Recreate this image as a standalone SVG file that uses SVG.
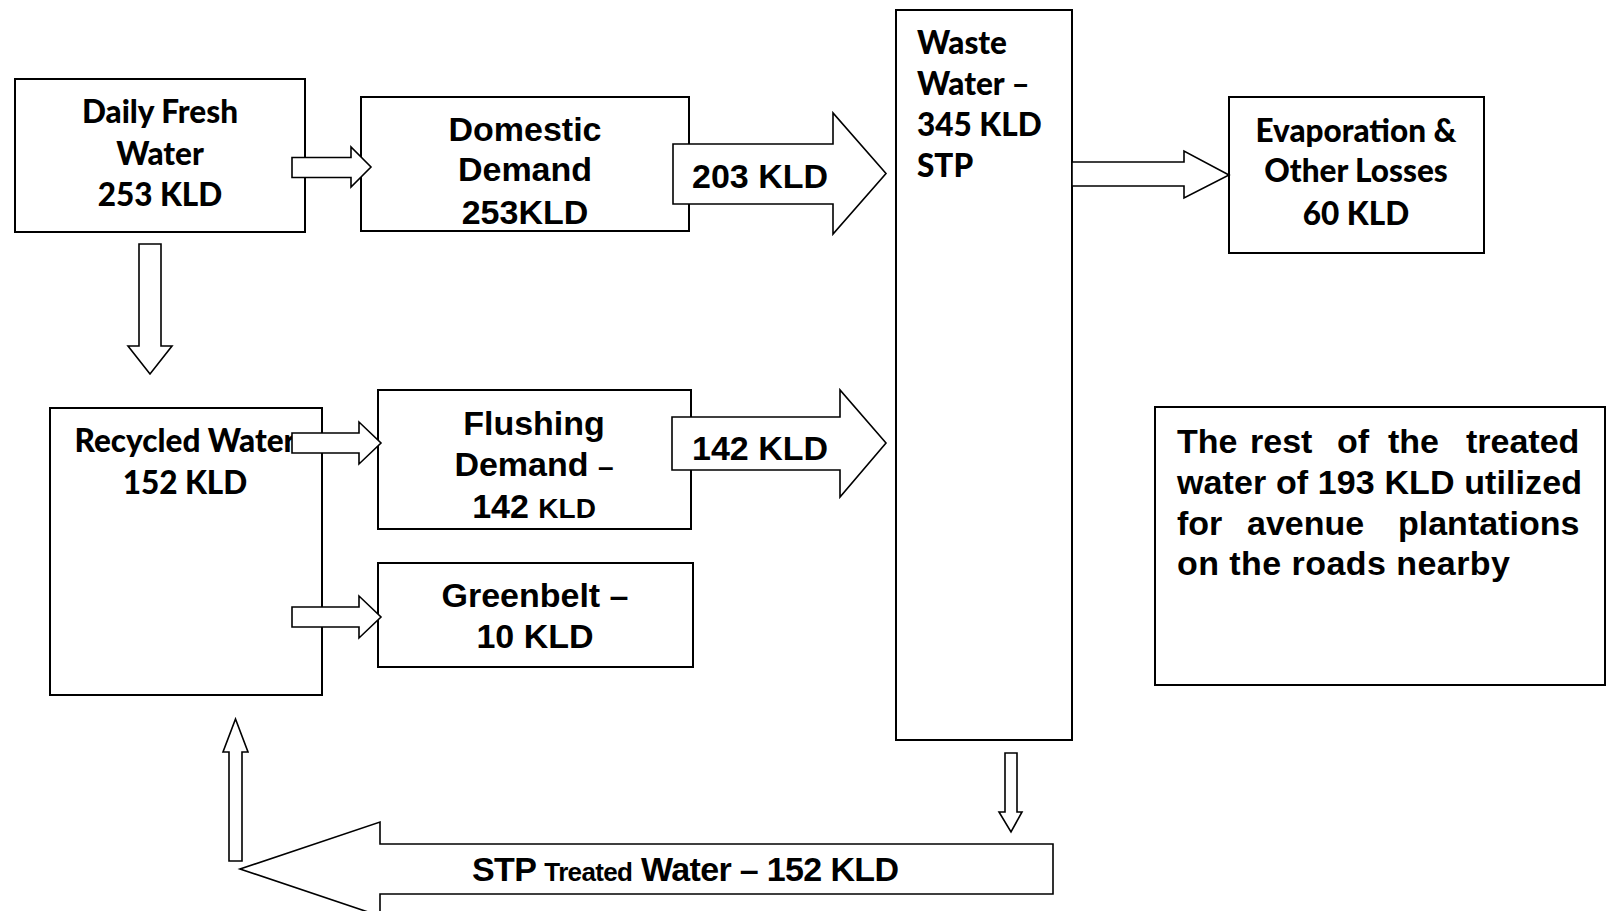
<svg xmlns="http://www.w3.org/2000/svg" width="1611" height="911" viewBox="0 0 1611 911">
<style>
.box{fill:#fff;stroke:#000;stroke-width:2}
.arr{fill:#fff;stroke:#000;stroke-width:1.6;stroke-linejoin:miter}
.c{font-family:Lato,"Liberation Sans",sans-serif;font-weight:900;font-size:31.5px;fill:#000}
.a{font-family:"Liberation Sans",Arial,sans-serif;font-weight:700;font-size:34px;fill:#000}
.g{font-family:"Liberation Sans",Arial,sans-serif;font-weight:700;font-size:34px;fill:#000}
.m{text-anchor:middle}
</style>
<rect width="1611" height="911" fill="#fff"/>
<g id="daily-fresh">
<rect class="box" x="15" y="79" width="290" height="153"/>
<text class="c m" x="160" y="123">Daily Fresh</text>
<text class="c m" x="160" y="165">Water</text>
<text class="c m" x="160" y="206">253 KLD</text>
</g>
<g id="domestic">
<rect class="box" x="361" y="97" width="328" height="134"/>
<text class="a m" x="525" y="141">Domestic</text>
<text class="a m" x="525" y="181" font-size="27">Demand</text>
<text class="a m" x="525" y="224">253KLD</text>
</g>
<g id="waste">
<rect class="box" x="896" y="10" width="176" height="730"/>
<text class="c" x="917" y="54" font-size="31">Waste</text>
<text class="c" x="917" y="95" font-size="31">Water –</text>
<text class="c" x="917" y="136" font-size="31">345 KLD</text>
<text class="c" x="917" y="177" font-size="31">STP</text>
</g>
<g id="evaporation">
<rect class="box" x="1229" y="97" width="255" height="156"/>
<text class="c m" x="1356" y="142">Evaporation &amp;</text>
<text class="c m" x="1356" y="182">Other Losses</text>
<text class="c m" x="1356" y="225">60 KLD</text>
</g>
<g id="recycled">
<rect class="box" x="50" y="408" width="272" height="287"/>
<text class="c m" x="185" y="452">Recycled Water</text>
<text class="c m" x="185" y="494">152 KLD</text>
</g>
<g id="flushing">
<rect class="box" x="378" y="390" width="313" height="139"/>
<text class="a m" x="534" y="435">Flushing</text>
<text class="a m" x="534" y="476">Demand <tspan font-size="28">–</tspan></text>
<text class="a m" x="534" y="518">142 <tspan font-size="28">KLD</tspan></text>
</g>
<g id="greenbelt">
<rect class="box" x="378" y="563" width="315" height="104"/>
<text class="a m" x="535" y="607">Greenbelt –</text>
<text class="a m" x="535" y="648">10 KLD</text>
</g>
<g id="note">
<rect class="box" x="1155" y="407" width="450" height="278"/>
<text class="g" y="453"><tspan x="1177">The</tspan><tspan x="1250">rest</tspan><tspan x="1337">of</tspan><tspan x="1388">the</tspan><tspan x="1466">treated</tspan></text>
<text class="g" x="1177" y="494" textLength="405" lengthAdjust="spacing">water of 193 KLD utilized</text>
<text class="g" y="535"><tspan x="1177">for</tspan><tspan x="1247">avenue</tspan><tspan x="1398">plantations</tspan></text>
<text class="g" x="1177" y="575" textLength="333" lengthAdjust="spacing">on the roads nearby</text>
</g>
<g id="connectors">
<polygon class="arr" points="292,157.5 351,157.5 351,147 371,167 351,187 351,177.5 292,177.5"/>
<polygon class="arr" points="673,144 833,144 833,113 886,173.5 833,234 833,204 673,204"/>
<polygon class="arr" points="1072,162 1184,162 1184,151 1229,175 1184,198 1184,186 1072,186"/>
<polygon class="arr" points="139,244 161,244 161,346 172,346 150,374 128,346 139,346"/>
<polygon class="arr" points="292,433 359,433 359,422 381,443 359,464 359,453 292,453"/>
<polygon class="arr" points="672,417 840,417 840,390 886,443 840,497 840,470 672,470"/>
<polygon class="arr" points="292,607 359,607 359,596 381,617 359,638 359,627 292,627"/>
<polygon class="arr" points="1005,753 1017,753 1017,812 1022,812 1011,832 999,812 1005,812"/>
<polygon class="arr" points="1053,844 380,844 380,822 240,869 380,916 380,894 1053,894"/>
<polygon class="arr" points="229,861 229,752 223,752 235.5,719 248,752 242,752 242,861"/>
<text class="a m" x="760" y="188">203 KLD</text>
<text class="a m" x="760" y="460">142 KLD</text>
<text class="a" x="472" y="881" font-size="30" textLength="427" lengthAdjust="spacing">STP <tspan font-size="26">Treated</tspan> Water – 152 KLD</text>
</g>
</svg>
